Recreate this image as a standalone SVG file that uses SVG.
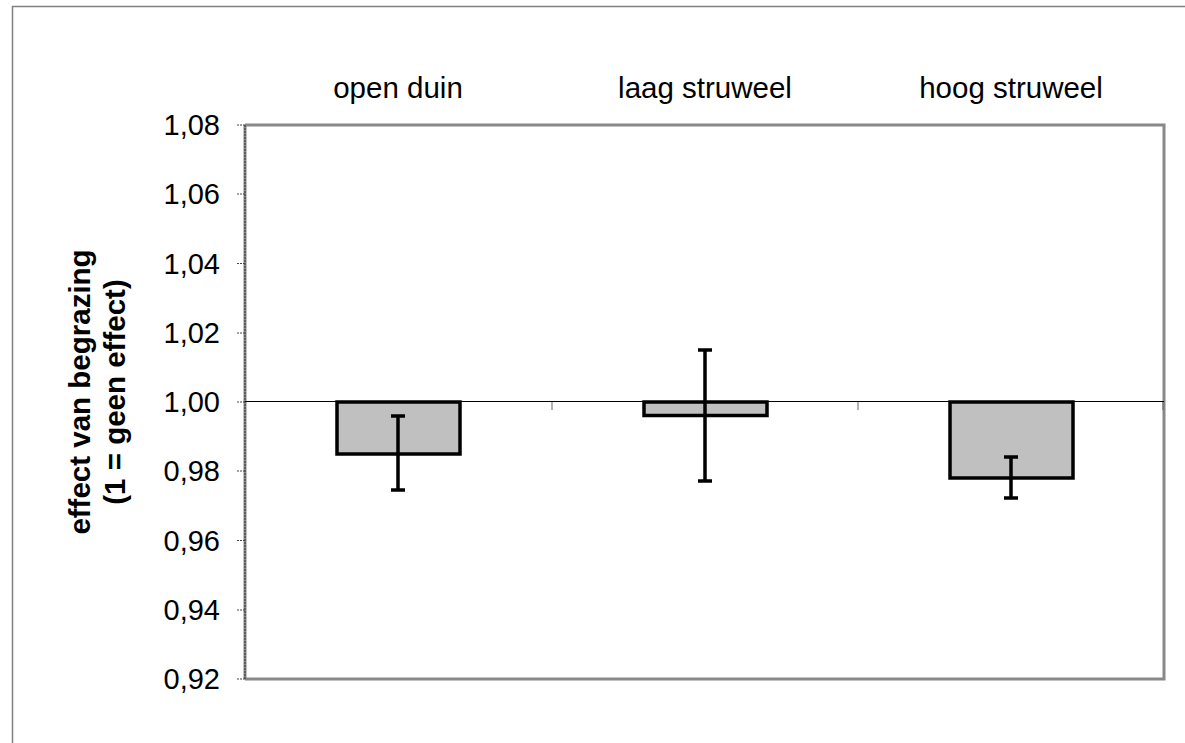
<svg xmlns="http://www.w3.org/2000/svg" width="1185" height="743" viewBox="0 0 1185 743">
<style>
.t{font-family:"Liberation Sans",Arial,sans-serif;fill:#000}
.lab{font-size:29px;text-anchor:end}
.cat{font-size:29.5px;text-anchor:middle}
.ttl{font-size:29.5px;font-weight:bold;text-anchor:middle}
.bar{fill:#c0c0c0;stroke:#000;stroke-width:3.5}
.err{stroke:#000;stroke-width:3.5;fill:none}
.tick{stroke:#444;stroke-width:1;stroke-dasharray:2,1}
</style>
<rect x="0" y="0" width="1185" height="743" fill="#fff"/>
<path d="M12.5,743 V6.5 H1185" fill="none" stroke="#808080" stroke-width="1.5"/>
<g id="plot-area">
<path d="M245,125 H1164 V679 H245" fill="none" stroke="#888" stroke-width="3"/>
<line x1="245" y1="125" x2="245" y2="679" stroke="#888" stroke-width="3"/>
<line x1="245" y1="125" x2="245" y2="679" stroke="#333" stroke-width="1" stroke-dasharray="2,1"/>
</g>
<g id="y-axis">
<g class="tick">
<line x1="237" y1="125" x2="245" y2="125"/>
<line x1="237" y1="194" x2="245" y2="194"/>
<line x1="237" y1="263.5" x2="245" y2="263.5"/>
<line x1="237" y1="333" x2="245" y2="333"/>
<line x1="237" y1="402" x2="245" y2="402"/>
<line x1="237" y1="471" x2="245" y2="471"/>
<line x1="237" y1="540.5" x2="245" y2="540.5"/>
<line x1="237" y1="610" x2="245" y2="610"/>
<line x1="237" y1="679" x2="245" y2="679"/>
</g>
<text class="t lab" x="220" y="135">1,08</text>
<text class="t lab" x="220" y="204">1,06</text>
<text class="t lab" x="220" y="273.5">1,04</text>
<text class="t lab" x="220" y="343">1,02</text>
<text class="t lab" x="220" y="412">1,00</text>
<text class="t lab" x="220" y="481">0,98</text>
<text class="t lab" x="220" y="550.5">0,96</text>
<text class="t lab" x="220" y="620">0,94</text>
<text class="t lab" x="220" y="689">0,92</text>
<text class="t ttl" transform="translate(90,392) rotate(-90)"><tspan x="0" y="0">effect van begrazing</tspan><tspan x="0" y="35">(1 = geen effect)</tspan></text>
</g>
<g id="baseline">
<line x1="245" y1="401.5" x2="1164" y2="401.5" stroke="#000" stroke-width="1.2"/>
<line x1="552" y1="402" x2="552" y2="410" stroke="#666" stroke-width="1"/>
<line x1="858" y1="402" x2="858" y2="410" stroke="#666" stroke-width="1"/>
<line x1="1163" y1="402" x2="1163" y2="410" stroke="#666" stroke-width="1"/>
</g>
<g id="open-duin">
<rect class="bar" x="337" y="402" width="123" height="52"/>
<path class="err" d="M398,416 V490 M391,416 H405 M391,490 H405"/>
<text class="t cat" x="398" y="98">open duin</text>
</g>
<g id="laag-struweel">
<rect class="bar" x="644" y="402" width="123" height="13.5"/>
<path class="err" d="M705,350 V481 M698,350 H712 M698,481 H712"/>
<text class="t cat" x="705" y="98">laag struweel</text>
</g>
<g id="hoog-struweel">
<rect class="bar" x="950" y="402" width="123" height="76"/>
<path class="err" d="M1011,457 V498 M1004,457 H1018 M1004,498 H1018"/>
<text class="t cat" x="1011" y="98">hoog struweel</text>
</g>
</svg>
